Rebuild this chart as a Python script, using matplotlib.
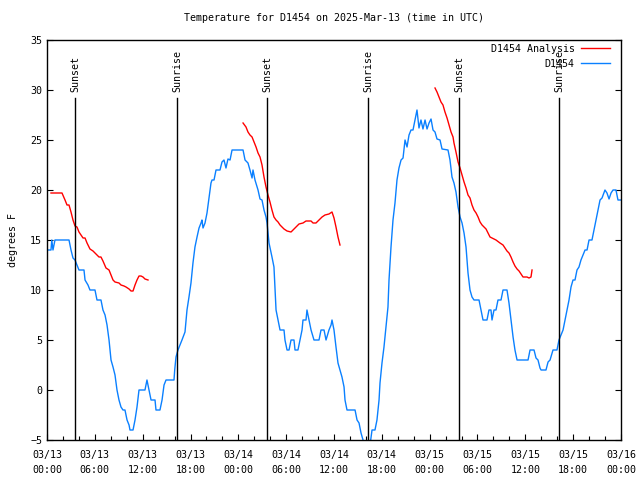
import numpy as np
import matplotlib
matplotlib.use("Agg")
import matplotlib.pyplot as plt

# hours since 2025-03-13 00:00 UTC
obs_hours = [
    0.00, 0.50, 0.60, 0.75, 1.00, 2.76, 3.01, 3.26, 3.51, 4.01, 4.64, 4.77, 5.14, 5.39,
    6.02, 6.27, 6.77, 7.02, 7.28, 7.53, 7.78, 8.03, 8.28, 8.53, 8.78, 9.03, 9.28, 9.53,
    9.78, 10.04, 10.29, 10.41, 10.79, 11.04, 11.29, 11.54, 12.29, 12.54, 12.79, 13.05,
    13.55, 13.67, 14.17, 14.43, 14.68, 14.93, 15.93, 16.02, 16.18, 16.43, 16.93, 17.31,
    17.56, 17.81, 18.06, 18.31, 18.56, 18.82, 19.07, 19.32, 19.44, 19.57, 19.82, 20.07,
    20.32, 20.57, 20.70, 20.95, 21.20, 21.70, 21.95, 22.20, 22.45, 22.70, 22.96, 23.21,
    24.59, 24.84, 25.21, 25.46, 25.72, 25.84, 26.09, 26.47, 26.72, 26.97, 27.22, 27.47,
    27.60, 27.85, 28.22, 28.47, 28.73, 28.98, 29.23, 29.73, 29.85, 30.11, 30.36, 30.61,
    30.98, 31.11, 31.48, 31.74, 31.99, 32.11, 32.49, 32.61, 32.87, 33.12, 33.49, 34.12,
    34.37, 34.75, 35.00, 35.37, 35.63, 35.75, 36.00, 36.25, 36.50, 36.75, 37.00, 37.26,
    37.38, 37.63, 38.64, 38.89, 39.14, 39.39, 39.64, 39.89, 40.52, 40.77, 41.14, 41.39,
    41.65, 41.77, 42.02, 42.27, 42.52, 42.77, 42.90, 43.15, 43.40, 43.65, 43.90, 44.15,
    44.41, 44.66, 44.91, 45.16, 45.41, 45.66, 45.91, 46.16, 46.41, 46.66, 46.91, 47.16,
    47.42, 47.67, 47.92, 48.17, 48.42, 48.67, 48.92, 49.30, 49.55, 50.30, 50.55, 50.80,
    51.05, 51.30, 51.56, 51.81, 52.06, 52.31, 52.56, 52.81, 53.06, 53.31, 53.56, 54.19,
    54.44, 54.69, 55.19, 55.44, 55.69, 55.82, 56.07, 56.32, 56.57, 56.95, 57.20, 57.70,
    57.95, 58.20, 58.46, 58.70, 58.96, 60.34, 60.59, 61.09, 61.34, 61.59, 61.84, 61.97,
    62.59, 62.85, 63.10, 63.47, 63.97, 64.22, 64.73, 64.98, 65.23, 65.48, 65.73, 65.98,
    66.23, 66.48, 66.73, 66.98, 67.24, 67.49, 67.74, 67.99, 68.36, 68.61, 68.86, 69.12,
    69.37, 69.62, 69.99, 70.24, 70.50, 70.75, 71.00, 71.37, 71.62, 72.00,
]
obs_temp = [
    14, 14, 15, 14, 15, 15, 14, 13.2, 13, 12, 12, 11, 10.5, 10,
    10, 9, 9, 8, 7.5, 6.5, 5, 3, 2.3, 1.5, 0, -1, -1.7, -2,
    -2, -3, -3.5, -4, -4, -3, -1.7, 0, 0, 1, 0, -1,
    -1, -2, -2, -1, 0.5, 1, 1, 2, 3.3, 4, 5, 5.8,
    8, 9.3, 10.7, 12.7, 14.3, 15.3, 16.2, 16.7, 17, 16.2, 16.7, 17.7,
    19.2, 20.7, 21, 21, 22, 22, 22.8, 23, 22.2, 23.1, 23, 24,
    24, 23, 22.7, 22, 21.2, 22, 21, 20, 19.1, 19, 18, 17.3,
    16.7, 14.7, 13.3, 12.3, 8, 7, 6, 6, 5, 4, 4, 5,
    5, 4, 4, 5, 6, 7, 7, 8, 7, 6, 5, 5,
    6, 6, 5, 6, 6.5, 7, 6, 4.3, 2.7, 2, 1.3, 0.3,
    -1, -2, -2, -3, -3.3, -4.3, -5, -5.5, -5.5, -4, -4, -3,
    -1, 0.7, 2.7, 4.3, 6.3, 8.3, 11, 14.3, 17, 18.7, 21, 22.2,
    23, 23.2, 25, 24.3, 25.5, 26, 26, 27, 28, 26.2, 27, 26.1,
    27, 26.1, 26.7, 27.1, 26, 25.8, 25.1, 25, 24.1, 24, 23, 21.3,
    20.7, 19.8, 18.3, 17.3, 16.7, 15.7, 14.3, 11.7, 10, 9.3, 9, 9,
    8, 7, 7, 8, 8, 7, 8, 8, 9, 9, 10, 10,
    8.7, 7, 5.3, 4, 3, 3, 4, 4, 3.2, 3, 2.2, 2,
    2, 2.8, 3, 4, 4, 5, 6, 7, 8, 9, 10.3, 11,
    11, 12, 12.3, 13, 13.5, 14, 14, 15, 15, 16, 17, 18,
    19, 19.2, 20, 19.7, 19.1, 19.7, 20, 20, 19, 19,
]

# analysis runs (three separate pieces)
ana1_hours = [0.50, 1.88, 2.26, 2.51, 2.76, 3.01, 3.26, 3.51, 3.76, 4.01, 4.52, 4.77, 5.02,
              5.39, 5.77, 6.27, 6.52, 6.77, 7.02, 7.40, 7.78, 8.03, 8.28, 8.53, 9.03, 9.28,
              9.66, 9.91, 10.29, 10.54, 10.79, 11.04, 11.29, 11.54, 11.79, 12.04, 12.29, 12.67]
ana1_temp = [19.7, 19.7, 19.0, 18.5, 18.5, 17.8, 17.0, 16.4, 16.3, 15.8, 15.2, 15.2, 14.7,
             14.1, 13.9, 13.5, 13.3, 13.3, 12.9, 12.2, 12.0, 11.5, 11.0, 10.8, 10.7, 10.5,
             10.4, 10.3, 10.1, 9.9, 9.9, 10.5, 11.0, 11.4, 11.4, 11.3, 11.1, 11.0]
ana2_hours = [24.59, 24.96, 25.21, 25.46, 25.72, 25.97, 26.22, 26.47, 26.72, 26.97, 27.22,
              27.47, 27.72, 27.97, 28.22, 28.47, 28.73, 28.98, 29.23, 29.48, 29.73, 30.11,
              30.61, 30.86, 31.36, 31.61, 32.11, 32.49, 33.12, 33.37, 33.74, 34.12, 34.50,
              34.87, 35.37, 35.75, 36.00, 36.25, 36.50, 36.75]
ana2_temp = [26.7, 26.3, 25.8, 25.5, 25.3, 24.8, 24.3, 23.7, 23.3, 22.5, 21.3,
             20.3, 19.5, 18.8, 18.0, 17.3, 17.0, 16.8, 16.5, 16.3, 16.1, 15.9,
             15.8, 16.0, 16.4, 16.6, 16.7, 16.9, 16.9, 16.7, 16.7, 17.0, 17.3,
             17.5, 17.6, 17.8, 17.2, 16.3, 15.3, 14.5]
ana3_hours = [48.67, 48.92, 49.17, 49.42, 49.67, 49.92, 50.18, 50.43, 50.68, 50.93, 51.05,
              51.30, 51.56, 51.81, 52.06, 52.31, 52.56, 52.81, 53.06, 53.31, 53.56, 53.82,
              54.07, 54.32, 54.57, 54.82, 55.07, 55.32, 55.57, 55.82, 56.32, 56.82, 57.20,
              57.45, 57.70, 57.95, 58.20, 58.46, 58.70, 58.96, 59.21, 59.46, 59.71, 60.21,
              60.46, 60.71, 60.84]
ana3_temp = [30.2, 29.8, 29.3, 28.8, 28.5, 27.8, 27.2, 26.5, 25.8, 25.3, 24.7,
             23.8, 22.8, 22.2, 21.5, 20.8, 20.2, 19.5, 19.2, 18.5, 18.0, 17.7,
             17.3, 16.8, 16.5, 16.3, 16.1, 15.7, 15.3, 15.2, 15.0, 14.7, 14.5,
             14.2, 13.9, 13.7, 13.3, 12.8, 12.4, 12.1, 11.9, 11.6, 11.3, 11.3,
             11.2, 11.3, 12.0]

sun_events = [("Sunset", 3.55), ("Sunrise", 16.3), ("Sunset", 27.6),
              ("Sunrise", 40.3), ("Sunset", 51.7), ("Sunrise", 64.25)]

tick_hours = list(range(0, 73, 6))
tick_labels = ["03/13\n00:00", "03/13\n06:00", "03/13\n12:00", "03/13\n18:00",
               "03/14\n00:00", "03/14\n06:00", "03/14\n12:00", "03/14\n18:00",
               "03/15\n00:00", "03/15\n06:00", "03/15\n12:00", "03/15\n18:00",
               "03/16\n00:00"]

FONT = "DejaVu Sans Mono"
FS = 7.2
plt.rcParams["font.family"] = FONT
plt.rcParams["font.size"] = FS

fig = plt.figure(figsize=(6.4, 4.8), dpi=100)
ax = fig.add_axes([47 / 640, 40 / 480, 574 / 640, 400 / 480])

red = "#ff0000"
blue = "#0a80ff"

ax.plot(ana1_hours, ana1_temp, color=red, lw=1.0, label="D1454 Analysis")
ax.plot(ana2_hours, ana2_temp, color=red, lw=1.0)
ax.plot(ana3_hours, ana3_temp, color=red, lw=1.0)
ax.plot(obs_hours, obs_temp, color=blue, lw=1.0, label="D1454")

for name, h in sun_events:
    ax.plot([h, h], [-5, 29.2], color="black", lw=1.0)
    ax.text(h, 29.8, name, rotation=90, ha="center", va="bottom", fontsize=FS)

ax.set_xlim(0, 72)
ax.set_ylim(-5, 35)
ax.set_xticks(tick_hours)
ax.set_xticklabels(tick_labels, linespacing=1.7)
ax.set_xticks(np.arange(0, 73, 2), minor=True)
ax.set_yticks(np.arange(-5, 36, 5))
ax.tick_params(which="both", direction="in", right=True, top=False, length=4,
               width=0.8, labelsize=FS)
ax.tick_params(which="minor", length=3)
ax.tick_params(axis="x", pad=7)
for s in ax.spines.values():
    s.set_linewidth(1.0)

ax.set_ylabel("degrees F", fontsize=FS, labelpad=9)
ax.set_title("Temperature for D1454 on 2025-Mar-13 (time in UTC)", fontsize=FS, pad=14)

ax.legend(loc="upper right", bbox_to_anchor=(0.987, 1.0), frameon=False,
          markerfirst=False, handlelength=2.9, fontsize=FS, borderaxespad=0.0,
          labelspacing=0.5, handletextpad=0.6)

fig.savefig("out.png", dpi=100)
